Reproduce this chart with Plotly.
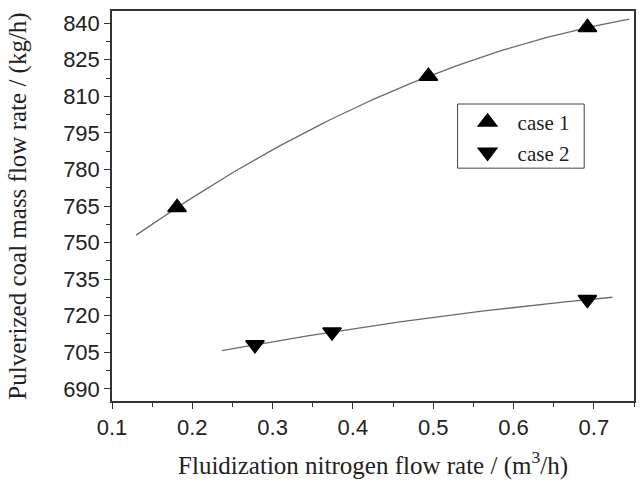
import numpy as np
import plotly.graph_objects as go

# Data
case1_x = [0.181, 0.494, 0.692]
case1_y = [764.4, 818.2, 838.2]
case2_x = [0.278, 0.374, 0.692]
case2_y = [708.1, 713.3, 726.6]

fit1_range = [0.13, 0.744]
fit2_range = [0.237, 0.723]

x_ticks = [0.1, 0.2, 0.3, 0.4, 0.5, 0.6, 0.7]
y_ticks = [690, 705, 720, 735, 750, 765, 780, 795, 810, 825, 840]

def fit_curve(xs, ys, xr):
    c = np.polyfit(xs, ys, 2)
    xx = np.linspace(xr[0], xr[1], 80)
    return xx, np.polyval(c, xx)

f1x, f1y = fit_curve(case1_x, case1_y, fit1_range)
f2x, f2y = fit_curve(case2_x, case2_y, fit2_range)

fig = go.Figure()
line_style = dict(color="#6a6a6a", width=1.3)
fig.add_trace(go.Scatter(x=f1x, y=f1y, mode="lines", line=line_style, showlegend=False, hoverinfo="skip"))
fig.add_trace(go.Scatter(x=f2x, y=f2y, mode="lines", line=line_style, showlegend=False, hoverinfo="skip"))
fig.add_trace(go.Scatter(x=case1_x, y=case1_y, mode="markers", name="case 1",
                         marker=dict(symbol="triangle-up", size=16, color="black",
                                     line=dict(color="black", width=1.5))))
fig.add_trace(go.Scatter(x=case2_x, y=case2_y, mode="markers", name="case 2",
                         marker=dict(symbol="triangle-down", size=16, color="black",
                                     line=dict(color="black", width=1.5))))

tick_font = dict(family="Liberation Sans, Arial", size=22, color="#222")
xtitle_font = dict(family="Liberation Serif, Times New Roman", size=25, color="#222")
ytitle_font = dict(family="Liberation Serif, Times New Roman", size=25, color="#222")

fig.update_layout(
    width=642, height=484,
    margin=dict(l=112, r=6, t=11, b=83),
    paper_bgcolor="white", plot_bgcolor="white",
    legend=dict(x=0.662, y=0.767, xanchor="left", yanchor="top",
                borderwidth=0, bgcolor="rgba(0,0,0,0)",
                font=dict(family="Liberation Serif, Times New Roman", size=21, color="#222"),
                tracegroupgap=0, itemwidth=50),
    shapes=[dict(type="rect", xref="paper", yref="paper",
                 x0=0.662, x1=0.9046, y0=0.597, y1=0.7615,
                 line=dict(color="#444", width=1), fillcolor="rgba(0,0,0,0)")],
)
fig.update_xaxes(
    range=[0.1, 0.75], tickvals=x_ticks, ticktext=[str(v) for v in x_ticks],
    ticks="outside", ticklen=6, tickwidth=1.3, tickcolor="#333",
    showline=True, linecolor="#333", linewidth=1.5, mirror=True,
    showgrid=False, zeroline=False, tickfont=tick_font,
    minor=dict(dtick=0.05, tick0=0.1, ticks="outside", ticklen=4, tickwidth=1.2, tickcolor="#333", showgrid=False),
    title=dict(text="Fluidization nitrogen flow rate / (m<sup>3</sup>/h)", font=xtitle_font, standoff=17),
)
fig.update_yaxes(
    range=[685, 845], tickvals=y_ticks, ticktext=[str(v) for v in y_ticks],
    ticks="outside", ticklen=6, tickwidth=1.3, tickcolor="#333",
    showline=True, linecolor="#333", linewidth=1.5, mirror=True,
    showgrid=False, zeroline=False, tickfont=tick_font,
    minor=dict(dtick=7.5, tick0=690, ticks="outside", ticklen=4, tickwidth=1.2, tickcolor="#333", showgrid=False),
    title=dict(text="Pulverized coal mass flow rate / (kg/h)", font=ytitle_font, standoff=29),
)

fig.write_html("out.html")
